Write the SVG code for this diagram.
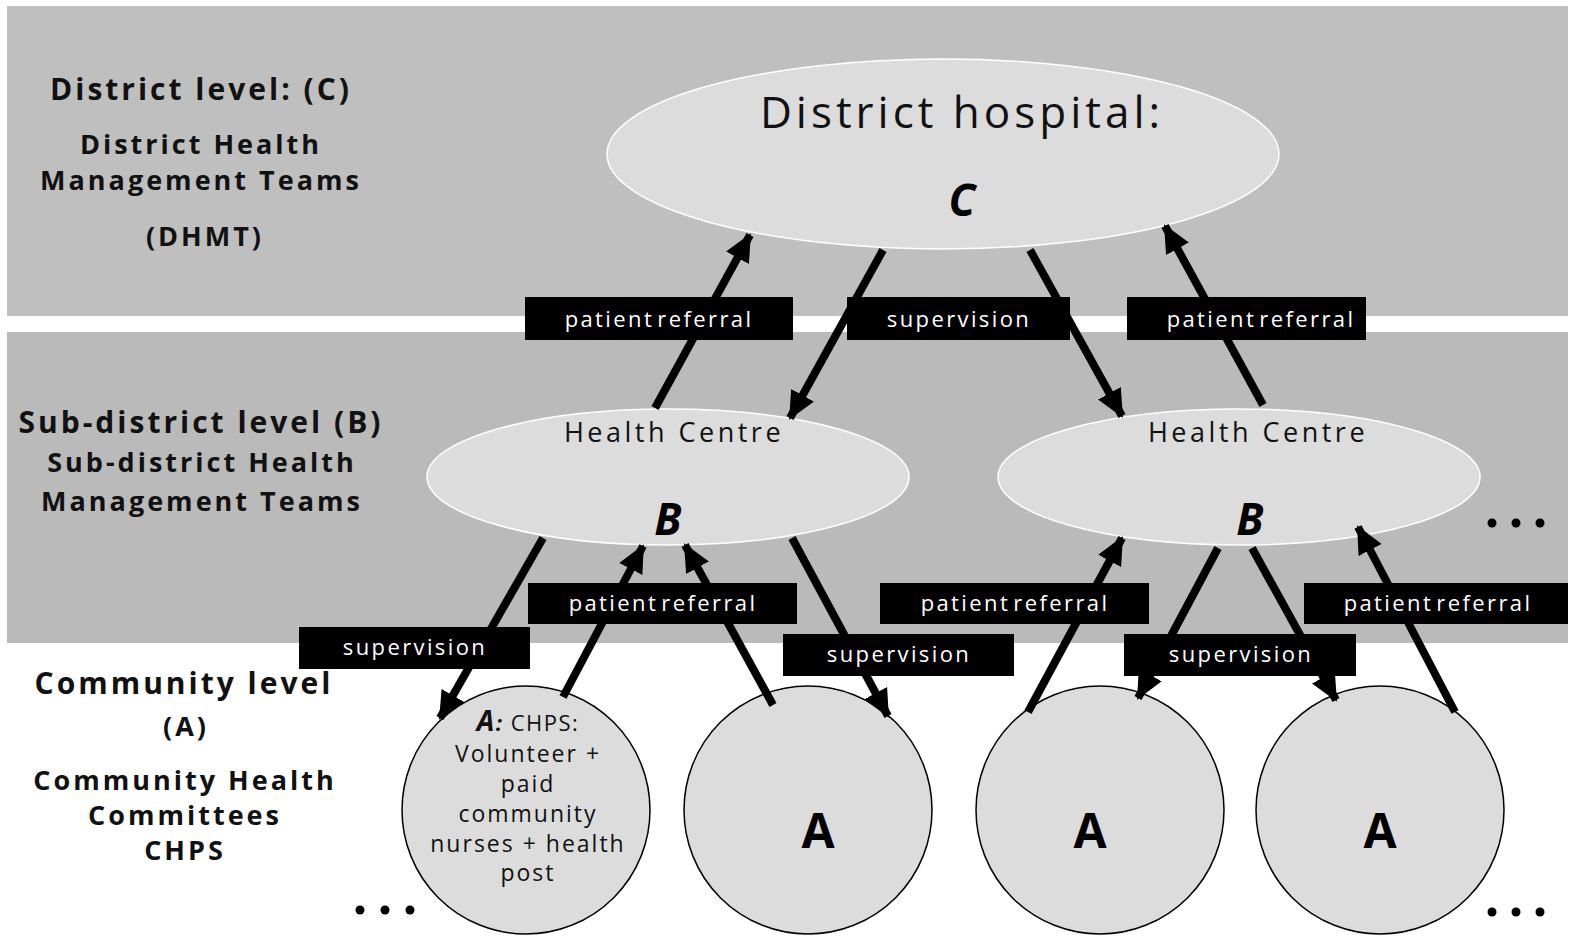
<svg xmlns="http://www.w3.org/2000/svg" width="1575" height="944" viewBox="0 0 1575 944">
<style>
.lvl{font-family:"Open Sans","Liberation Sans",sans-serif;font-weight:bold;fill:#111;text-anchor:middle;letter-spacing:3px}
.lbl{font-family:"Open Sans","Liberation Sans",sans-serif;font-size:22px;fill:#fff;text-anchor:middle;letter-spacing:2.4px;word-spacing:-5px}
.box{fill:#000}
.conn{stroke:#000;stroke-width:8;fill:none;marker-end:url(#ah)}
.ell{fill:#dcdcdc;stroke:#fff;stroke-width:1.5}
.circ{fill:#dcdcdc;stroke:#000;stroke-width:1.5}
.t{font-family:"Open Sans","Liberation Sans",sans-serif;fill:#111;text-anchor:middle}
.big{font-family:"Open Sans","Liberation Sans",sans-serif;font-weight:bold;fill:#000;text-anchor:middle}
</style>
<defs>
<marker id="ah" markerUnits="userSpaceOnUse" markerWidth="30" markerHeight="30" viewBox="0 0 30 30" refX="26" refY="15" orient="auto">
<path d="M0,2 L28,15 L0,28 Z" fill="#000"/>
</marker>
</defs>
<rect x="0" y="0" width="1575" height="944" fill="#fff"/>
<rect x="7" y="6" width="1561" height="310" fill="#bfbfbf"/>
<rect x="7" y="332" width="1561" height="311" fill="#bababa"/>

<g id="level-text">
<text class="lvl" x="201" y="100" font-size="30">District level: (C)</text>
<text class="lvl" x="201" y="154" font-size="27">District Health</text>
<text class="lvl" x="201" y="190" font-size="27">Management Teams</text>
<text class="lvl" x="205" y="246" font-size="27">(DHMT)</text>
<text class="lvl" x="201" y="433" font-size="30">Sub-district level (B)</text>
<text class="lvl" x="202" y="472" font-size="27">Sub-district Health</text>
<text class="lvl" x="202" y="511" font-size="27">Management Teams</text>
<text class="lvl" x="184" y="694" font-size="30">Community level</text>
<text class="lvl" x="186" y="736" font-size="27">(A)</text>
<text class="lvl" x="185" y="790" font-size="27">Community Health</text>
<text class="lvl" x="185" y="825" font-size="27">Committees</text>
<text class="lvl" x="185" y="860" font-size="27">CHPS</text>
</g>

<g id="district-hospital">
<ellipse class="ell" cx="943" cy="154" rx="336" ry="95"/>
<text class="t" x="962" y="128" font-size="44" letter-spacing="4">District hospital:</text>
<text class="big" x="962" y="216" font-size="44" font-style="italic">C</text>
</g>

<g id="health-centre-1">
<ellipse class="ell" cx="668" cy="477" rx="241" ry="68"/>
<text class="t" x="674" y="442" font-size="27" letter-spacing="3.5">Health Centre</text>
<text class="big" x="668" y="535" font-size="44" font-style="italic">B</text>
</g>

<g id="health-centre-2">
<ellipse class="ell" cx="1239" cy="477" rx="241" ry="68"/>
<text class="t" x="1258" y="442" font-size="27" letter-spacing="3.5">Health Centre</text>
<text class="big" x="1250" y="535" font-size="44" font-style="italic">B</text>
</g>

<g id="community-1">
<circle class="circ" cx="526" cy="810" r="124"/>
<text class="t" font-size="22" x="528" y="731" letter-spacing="1.5"><tspan font-weight="bold" font-style="italic" font-size="28">A</tspan><tspan font-weight="bold" font-style="italic">:</tspan> CHPS:</text>
<text class="t" font-size="23" x="528" y="762" letter-spacing="2">Volunteer +</text>
<text class="t" font-size="23" x="528" y="792" letter-spacing="2">paid</text>
<text class="t" font-size="23" x="528" y="822" letter-spacing="2">community</text>
<text class="t" font-size="23" x="528" y="852" letter-spacing="2">nurses + health</text>
<text class="t" font-size="23" x="528" y="881" letter-spacing="2">post</text>
</g>
<g id="community-2">
<circle class="circ" cx="808" cy="810" r="124"/>
<text class="big" x="818" y="848" font-size="48">A</text>
</g>
<g id="community-3">
<circle class="circ" cx="1100" cy="810" r="124"/>
<text class="big" x="1090" y="848" font-size="48">A</text>
</g>
<g id="community-4">
<circle class="circ" cx="1380" cy="810" r="124"/>
<text class="big" x="1380" y="848" font-size="48">A</text>
</g>

<g id="connectors">
<line class="conn" x1="655" y1="408" x2="750" y2="235"/>
<line class="conn" x1="883" y1="250" x2="790" y2="418"/>
<line class="conn" x1="1030" y1="250" x2="1122" y2="416"/>
<line class="conn" x1="1263" y1="405" x2="1165" y2="226"/>
<line class="conn" x1="543" y1="538" x2="440" y2="718"/>
<line class="conn" x1="563" y1="697" x2="643" y2="546"/>
<line class="conn" x1="773" y1="705" x2="685" y2="545"/>
<line class="conn" x1="792" y1="538" x2="888" y2="716"/>
<line class="conn" x1="1028" y1="712" x2="1122" y2="538"/>
<line class="conn" x1="1218" y1="548" x2="1138" y2="698"/>
<line class="conn" x1="1252" y1="548" x2="1336" y2="700"/>
<line class="conn" x1="1455" y1="712" x2="1358" y2="527"/>
</g>

<g id="labels">
<rect class="box" x="525" y="297" width="268" height="43"/>
<text class="lbl" x="659" y="327">patient referral</text>
<rect class="box" x="847" y="297" width="223" height="43"/>
<text class="lbl" x="959" y="327">supervision</text>
<rect class="box" x="1127" y="297" width="239" height="43"/>
<text class="lbl" x="1261" y="327">patient referral</text>
<rect class="box" x="528" y="583" width="269" height="41"/>
<text class="lbl" x="663" y="611">patient referral</text>
<rect class="box" x="299" y="627" width="231" height="42"/>
<text class="lbl" x="415" y="655">supervision</text>
<rect class="box" x="783" y="634" width="231" height="42"/>
<text class="lbl" x="899" y="662">supervision</text>
<rect class="box" x="880" y="583" width="269" height="41"/>
<text class="lbl" x="1015" y="611">patient referral</text>
<rect class="box" x="1124" y="634" width="232" height="42"/>
<text class="lbl" x="1241" y="662">supervision</text>
<rect class="box" x="1304" y="583" width="264" height="41"/>
<text class="lbl" x="1438" y="611">patient referral</text>
</g>

<g id="ellipsis" fill="#000">
<circle cx="360" cy="910" r="4.5"/><circle cx="385" cy="910" r="4.5"/><circle cx="410" cy="910" r="4.5"/>
<circle cx="1492" cy="523" r="4.5"/><circle cx="1516" cy="523" r="4.5"/><circle cx="1540" cy="523" r="4.5"/>
<circle cx="1492" cy="912" r="4.5"/><circle cx="1516" cy="912" r="4.5"/><circle cx="1540" cy="912" r="4.5"/>
</g>
</svg>
